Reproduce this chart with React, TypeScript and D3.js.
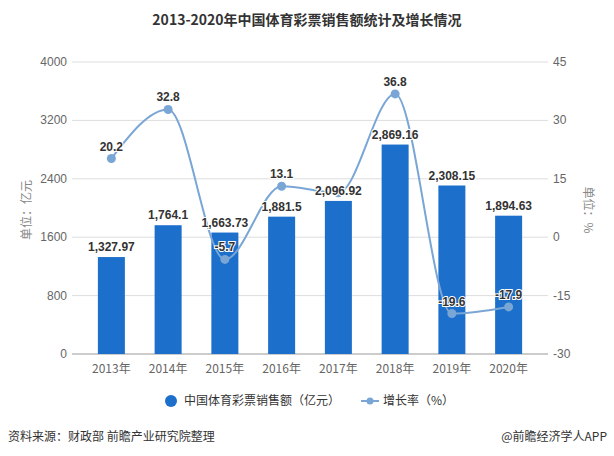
import React from 'react';
import * as d3 from 'd3';

// chart data
const years = ['2013年', '2014年', '2015年', '2016年', '2017年', '2018年', '2019年', '2020年'];
const sales = [1327.97, 1764.1, 1663.73, 1881.5, 2096.92, 2869.16, 2308.15, 1894.63];
const growth = [20.2, 32.8, -5.7, 13.1, 11.4, 36.8, -19.6, -17.9];
// which growth labels are shown (2017's is hidden behind the bar label)
const growthLabelShown = [true, true, true, true, false, true, true, true];
const leftTicks = [0, 800, 1600, 2400, 3200, 4000];
const rightTicks = [-30, -15, 0, 15, 30, 45];

const W = 614;
const H = 456;
const font = '"Noto Sans CJK SC", "Noto Sans", sans-serif';
const numFont = '"Liberation Sans", Arial, sans-serif';
const barColor = '#1c6fca';
const lineColor = '#7aa6d6';

const App = () => {
  const x = d3.scaleBand<string>().domain(years).range([83, 537]);
  const yL = d3.scaleLinear().domain([0, 4000]).range([354, 62]);
  const yR = d3.scaleLinear().domain([-30, 45]).range([354, 62]);
  const barW = 27;
  const cx = (d: string) => (x(d) ?? 0) + x.bandwidth() / 2;

  const line = d3.line<number>()
    .x((d, i) => cx(years[i]))
    .y(d => yR(d))
    .curve(d3.curveMonotoneX);

  const fmt = d3.format(',');

  return (
    <svg width={W} height={H} style={{ position: 'absolute', left: 0, top: 0, background: '#fff' }}>
      <text x={307} y={25} textAnchor="middle" fontFamily={font} fontWeight="bold" fontSize={14} fill="#333">
        2013-2020年中国体育彩票销售额统计及增长情况
      </text>

      {/* gridlines */}
      {leftTicks.map(t => (
        <line key={t} x1={72} x2={548} y1={yL(t)} y2={yL(t)} stroke={t === 0 ? '#999' : '#ddd'} strokeWidth={1} />
      ))}

      {/* left ticks */}
      {leftTicks.map(t => (
        <text key={t} x={67} y={yL(t) + 4} textAnchor="end" fontFamily={numFont} fontSize={12} fill="#666">{t}</text>
      ))}
      {/* right ticks */}
      {rightTicks.map(t => (
        <text key={t} x={553} y={yR(t) + 4} textAnchor="start" fontFamily={numFont} fontSize={12} fill="#666">{t}</text>
      ))}

      <text transform="translate(31,210) rotate(-90)" textAnchor="middle" fontFamily={font} fontSize={12} fill="#888">单位：亿元</text>
      <text transform="translate(584,210) rotate(90)" textAnchor="middle" fontFamily={font} fontSize={12} fill="#888">单位：%</text>

      {/* x labels */}
      {years.map(d => (
        <text key={d} x={cx(d)} y={373} textAnchor="middle" fontFamily={font} fontSize={12} fill="#666">{d}</text>
      ))}

      {/* bars */}
      {sales.map((v, i) => (
        <rect key={i} x={cx(years[i]) - barW / 2} y={yL(v)} width={barW} height={yL(0) - yL(v)} fill={barColor} />
      ))}

      {/* line */}
      <path d={line(growth) ?? ''} fill="none" stroke={lineColor} strokeWidth={2} />
      {growth.map((v, i) => (
        <circle key={i} cx={cx(years[i])} cy={yR(v)} r={4.5} fill={lineColor} />
      ))}

      {/* bar labels */}
      {sales.map((v, i) => (
        <text key={i} x={cx(years[i])} y={yL(v) - 6} textAnchor="middle" fontFamily={numFont} fontWeight="bold" fontSize={12} fill="#333"
          stroke="#fff" strokeWidth={2} paintOrder="stroke">
          {fmt(v)}
        </text>
      ))}
      {/* growth labels */}
      {growth.map((v, i) => growthLabelShown[i] ? (
        <text key={i} x={cx(years[i])} y={yR(v) - 8} textAnchor="middle" fontFamily={numFont} fontWeight="bold" fontSize={12} fill="#333"
          stroke="#fff" strokeWidth={2} paintOrder="stroke">
          {v}
        </text>
      ) : null)}

      {/* legend */}
      <circle cx={171} cy={401} r={6} fill={barColor} />
      <text x={184} y={405} fontFamily={font} fontSize={12} fill="#333">中国体育彩票销售额（亿元）</text>
      <line x1={361} x2={379} y1={401} y2={401} stroke={lineColor} strokeWidth={2} />
      <circle cx={370} cy={401} r={3.5} fill={lineColor} />
      <text x={383} y={405} fontFamily={font} fontSize={12} fill="#333">增长率（%）</text>

      {/* footer */}
      <text x={8} y={441} fontFamily={font} fontSize={12} fill="#333">资料来源：财政部 前瞻产业研究院整理</text>
      <text x={607} y={441} textAnchor="end" fontFamily={font} fontSize={12} fill="#333">@前瞻经济学人APP</text>
    </svg>
  );
};

export default App;
